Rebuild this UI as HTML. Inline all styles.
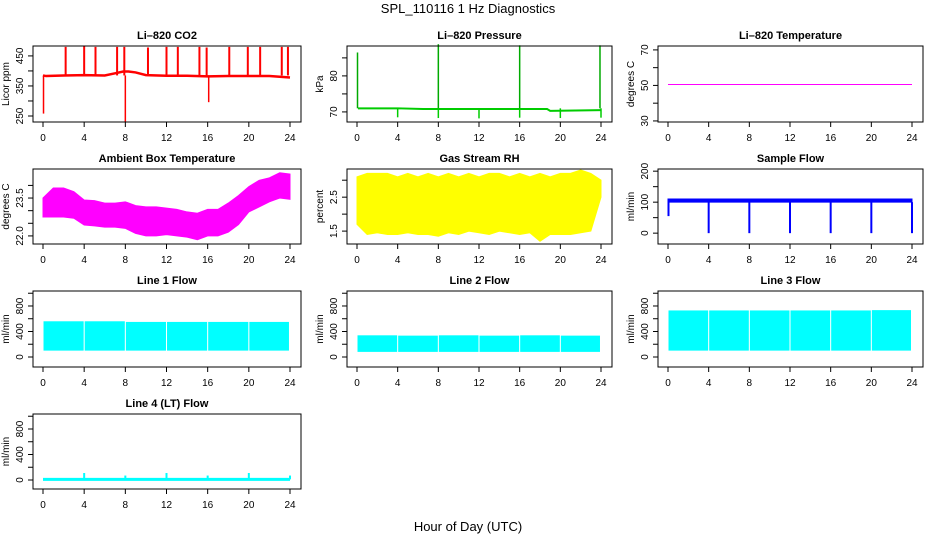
<!DOCTYPE html>
<html><head><meta charset="utf-8"><style>
body{margin:0;background:#fff}
svg{display:block;font-family:"Liberation Sans",sans-serif}
</style></head><body>
<svg id="c" width="936" height="540" viewBox="0 0 936 540">
<text x="468" y="13" font-size="13" text-anchor="middle">SPL_110116  1 Hz Diagnostics</text>
<text x="468" y="531" font-size="13" text-anchor="middle">Hour of Day (UTC)</text>
</svg>
<script>
// ---- data ----
const xTicks = [0,4,8,12,16,20,24];
const hours = [0,1,2,3,4,5,6,7,8,9,10,11,12,13,14,15,16,17,18,19,20,21,22,23,24];
// CO2
const co2BaseT = [0,0.3,2,4,6,7,7.8,8.3,9,10,12,14,16,18,20,22,24];
const co2BaseV = [385,383,385,386,385,392,398,398,395,386,384,384,382,383,383,383,378];
const co2SpikeT = [2.2,4.0,5.1,7.2,7.9,10.2,12.0,13.1,15.2,15.9,18.1,19.9,21.1,23.2,23.8];
const co2SpikeV = [480,482,480,480,480,478,480,480,480,478,480,480,480,480,480];
const co2DipT = [0.05,8.0,16.1];
const co2DipV = [258,230,296];
// Pressure
const presT = [0.1,4,6.5,8,16,18.7,19,24];
const presV = [71,71,70.8,70.8,70.8,70.8,70.3,70.5];
const presSpikeT = [0.05,8.0,16.0,23.9];
const presSpikeV = [86.5,88.8,88.5,88.5];
const presDipT = [4,8,12,16,20,24];
const presDipV = [68.5,68.3,68.2,68.4,68.3,68.4];
// Li-820 temperature
const li820Temp = 50.5;
// Ambient box temperature envelope (hourly)
const ambUpper = [23.5,23.9,23.9,23.75,23.42,23.4,23.3,23.3,23.35,23.2,23.15,23.15,23.1,23.05,22.95,22.9,23.05,23.05,23.3,23.6,23.95,24.2,24.3,24.5,24.45];
const ambLower = [22.75,22.75,22.75,22.7,22.43,22.4,22.35,22.35,22.3,22.1,22.0,22.0,22.05,22.0,21.95,21.85,22.0,22.0,22.15,22.45,22.95,23.15,23.35,23.5,23.45];
// Gas stream RH envelope
const rhUpper = [3.1,3.2,3.2,3.2,3.1,3.2,3.1,3.2,3.1,3.2,3.1,3.2,3.1,3.2,3.2,3.1,3.2,3.1,3.2,3.1,3.2,3.2,3.3,3.2,3.0];
const rhLower = [1.7,1.4,1.45,1.4,1.4,1.45,1.4,1.4,1.35,1.45,1.4,1.5,1.45,1.4,1.5,1.45,1.4,1.45,1.2,1.4,1.4,1.4,1.45,1.5,2.5];
// Sample flow
const sampUpper = 110, sampLower = 100;
const sampDipT = [4,8,12,16,20,24];
const sampDipV = [0,0,0,0,0,0];
// Line flows: blocks between valve switches
const blockStart = [0.05,4.05,8.05,12.05,16.05,20.05];
const blockEnd = [3.95,7.95,11.95,15.95,19.95,23.9];
const l1Upper = [560,560,550,550,550,550];
const l1Lower = [100,100,100,100,100,100];
const l2Upper = [340,335,340,335,340,335];
const l2Lower = [80,80,80,80,80,80];
const l3Upper = [730,730,730,730,730,735];
const l3Lower = [100,100,100,100,100,100];
const l4Base = 10;
const l4SpikeT = [4,8,12,16,20,24];
const l4SpikeV = [110,70,110,70,110,70];

// ---- layout ----
const NS='http://www.w3.org/2000/svg';
const svg=document.getElementById('c');
const colL=[33,347,658], colR=[301,612,923];
const rowT=[46,169,291,414], rowB=[122,244,367,489];
function mk(tag,at,parent){const e=document.createElementNS(NS,tag);for(const k in at)e.setAttribute(k,at[k]);(parent||svg).appendChild(e);return e;}

function panel(col,row,title,ylab,dom,ticks,labels){
  const L=colL[col],R=colR[col],T=rowT[row],B=rowB[row];
  const g=mk('g',{});
  
  
  const xs=t=>L+10+(R-L-21)*t/24;
  const ys=v=>B-(v-dom[0])/(dom[1]-dom[0])*(B-T);
  const t=mk('text',{x:(L+R)/2,y:T-7,'font-size':11,'font-weight':'bold','text-anchor':'middle'},g);
  t.textContent=title;
  
  
  const plot=mk('g',{},g);
  
  
  for(const v of xTicks){
    const tk=mk('line',{x1:xs(v),x2:xs(v),y1:B,y2:B+5,stroke:'#000'},g);
    
    
    const tl=mk('text',{x:xs(v),y:B+19,'font-size':10,'text-anchor':'middle'},g);
    tl.textContent=v;
    
    
  }
  for(const v of ticks){
    const tk=mk('line',{x1:L-5,x2:L,y1:ys(v),y2:ys(v),stroke:'#000'},g);
    
    
  }
  for(const v of labels){
    const tl=mk('text',{x:0,y:0,'font-size':10,'text-anchor':'middle',transform:`translate(${L-10},${ys(v)}) rotate(-90)`},g);
    tl.textContent=v;
    
    
  }
  const yl=mk('text',{x:0,y:0,'font-size':10,'text-anchor':'middle',transform:`translate(${L-24},${(T+B)/2}) rotate(-90)`},g);
  yl.textContent=ylab;
  
  
  const box=mk('rect',{x:L,y:T,width:R-L,height:B-T,fill:'none',stroke:'#000'},g);
  
  
  return {xs,ys,plot};
}
function band(p,tArr,up,lo,color,name){
  let d='M'+tArr.map((t,i)=>p.xs(t)+','+p.ys(up[i])).join('L');
  for(let i=tArr.length-1;i>=0;i--)d+='L'+p.xs(tArr[i])+','+p.ys(lo[i]);
  const e=mk('path',{d:d+'Z',fill:color,stroke:color,'stroke-width':1},p.plot);
  
  
}
function line(p,tArr,vArr,color,w,name){
  const e=mk('polyline',{points:tArr.map((t,i)=>p.xs(t)+','+p.ys(vArr[i])).join(' '),fill:'none',stroke:color,'stroke-width':w},p.plot);
  
  
}
function spikes(p,tArr,vArr,base,color,w,name){
  tArr.forEach((t,i)=>{
    const e=mk('line',{x1:p.xs(t),x2:p.xs(t),y1:p.ys(base),y2:p.ys(vArr[i]),stroke:color,'stroke-width':w},p.plot);
    
    
  });
}

// CO2
let p=panel(0,0,'Li–820 CO2','Licor ppm',[230,483],[250,300,350,400,450],[250,350,450]);
line(p,co2BaseT,co2BaseV,'#f00',2.5,'co2-line');
spikes(p,co2SpikeT,co2SpikeV,385,'#f00',2,'co2-spike');
spikes(p,co2DipT,co2DipV,385,'#f00',1.5,'co2-dip');
// Pressure
p=panel(1,0,'Li–820 Pressure','kPa',[67.2,88.3],[70,75,80,85],[70,80]);
line(p,presT,presV,'#0c0',2,'pressure-line');
spikes(p,presSpikeT,presSpikeV,71,'#0a0',1.5,'pressure-spike');
spikes(p,presDipT,presDipV,71,'#0c0',1.5,'pressure-dip');
// Li-820 temp
p=panel(2,0,'Li–820 Temperature','degrees C',[29.4,72.2],[30,40,50,60,70],[30,50,70]);
line(p,[0,24],[li820Temp,li820Temp],'#f0f',1,'li820-temp-line');
// Ambient
p=panel(0,1,'Ambient Box Temperature','degrees C',[21.68,24.65],[22,22.5,23,23.5,24],['22.0','23.5']);
band(p,hours,ambUpper,ambLower,'#f0f','ambient-temp-band');
// RH
p=panel(1,1,'Gas Stream RH','percent',[1.12,3.33],[1.5,2,2.5,3],['1.5','2.5']);
band(p,hours,rhUpper,rhLower,'#ff0','rh-band');
// Sample flow
p=panel(2,1,'Sample Flow','ml/min',[-35,207],[0,50,100,150,200],[0,100,200]);
band(p,[0,24],[sampUpper,sampUpper],[sampLower,sampLower],'#00f','sample-flow-band');
spikes(p,sampDipT,sampDipV,100,'#00f',2,'sample-flow-dip');
spikes(p,[0.05],[55],100,'#00f',2,'sample-flow-dip');
// Line flows
const fticks=[0,200,400,600,800,1000], flabels=[0,400,800];
[[0,'Line 1 Flow',l1Upper,l1Lower],[1,'Line 2 Flow',l2Upper,l2Lower],[2,'Line 3 Flow',l3Upper,l3Lower]].forEach(([c,tt,up,lo])=>{
  const q=panel(c,2,tt,'ml/min',[-157,1035],fticks,flabels);
  blockStart.forEach((s,i)=>{
    const r=mk('rect',{x:q.xs(s),y:q.ys(up[i]),width:q.xs(blockEnd[i])-q.xs(s),height:q.ys(lo[i])-q.ys(up[i]),fill:'#0ff'},q.plot);
    
    
  });
});
p=panel(0,3,'Line 4 (LT) Flow','ml/min',[-141,1035],fticks,flabels);
line(p,[0,24],[l4Base,l4Base],'#0ff',3,'line4-flow-line');
spikes(p,l4SpikeT,l4SpikeV,l4Base,'#0ff',2,'line4-flow-spike');
</script>
</body></html>
